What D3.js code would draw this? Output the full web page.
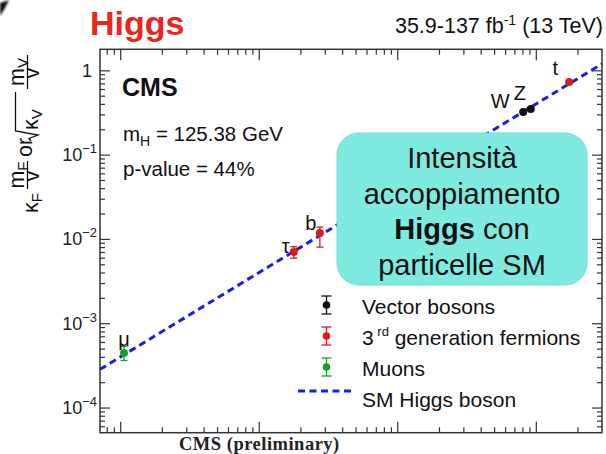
<!DOCTYPE html>
<html>
<head>
<meta charset="utf-8">
<script src="https://cdn.jsdelivr.net/npm/d3@7"></script>
<style>
  html, body { margin: 0; padding: 0; background: #fff; }
  svg { display: block; font-family: "Liberation Sans", Arial, Helvetica, sans-serif; }
</style>
</head>
<body>
<svg id="chart" width="606" height="454"></svg>
<script>
// Higgs boson couplings versus particle mass
const particles = ["μ", "τ", "b", "W", "Z", "t"];
const masses    = [0.1057, 1.777, 2.74, 80.38, 91.19, 172.8];        // GeV
const couplings = [4.49e-4, 7.1e-3, 0.0119, 0.325, 0.352, 0.736];   // kappa * m / v
const errLow    = [3.67e-4, 6.0e-3, 0.0081, 0.318, 0.345, 0.722];
const errHigh   = [5.38e-4, 8.2e-3, 0.0140, 0.332, 0.359, 0.750];
const groups    = ["muon", "fermion3", "fermion3", "vector", "vector", "fermion3"];
const vev = 246.22;                                                // GeV

const legendEntries = ["Vector bosons", "3rd generation fermions", "Muons", "SM Higgs boson"];
const legendGroups  = ["vector", "fermion3", "muon", "sm"];
const yTickValues   = [1e-4, 1e-3, 1e-2, 1e-1, 1];
const yTickExps     = ["−4", "−3", "−2", "−1", ""];
const massRange     = [0.0709, 298];
const couplingRange = [5.1e-5, 1.8];
const boxLines      = ["Intensità", "accoppiamento", "Higgs con", "particelle SM"];

const colors = { vector: "#111111", fermion3: "#e01a1a", muon: "#1a9e2a", sm: "#1c1ce0" };

// label placement around each marker
const labelOffsets = { "μ": [0, -7], "τ": [-8, 1], "b": [-9, -3], "W": [-23, -4], "Z": [-11, -9], "t": [-14, -7] };

const svg = d3.select("#chart");
const L = 100, R = 602, T = 49.3, B = 432.7;

const x = d3.scaleLog().domain(massRange).range([L, R]);
const y = d3.scaleLog().domain(couplingRange).range([B, T]);

// small dark mark in the corner
svg.append("path")
  .attr("d", "M0,3 L9,0 L5,8 L0,16 Z")
  .attr("fill", "#111")
  .style("filter", "blur(0.8px)");

// headline texts
svg.append("text").attr("x", 90).attr("y", 35)
  .attr("font-size", 34).attr("font-weight", "bold").attr("fill", "#e8261e")
  .text("Higgs");

const lumi = svg.append("text").attr("x", 603).attr("y", 33)
  .attr("text-anchor", "end").attr("font-size", 21.5).attr("fill", "#111");
lumi.append("tspan").text("35.9-137 fb");
lumi.append("tspan").attr("font-size", 14).attr("dy", -8).text("-1");
lumi.append("tspan").attr("dy", 8).text(" (13 TeV)");

// ticks (log scale, drawn on all four sides)
function logTicks(domain) {
  const out = [];
  const lo = Math.floor(Math.log10(domain[0])), hi = Math.ceil(Math.log10(domain[1]));
  for (let e = lo; e <= hi; e++) {
    for (let k = 1; k <= 9; k++) {
      const v = k * Math.pow(10, e);
      if (v >= domain[0] && v <= domain[1]) out.push({ v, major: k === 1 });
    }
  }
  return out;
}
const tickColor = "#333";
const ticksG = svg.append("g").attr("stroke", tickColor).attr("stroke-width", 1.2);
logTicks(massRange).forEach(t => {
  const len = t.major ? 11 : 5.5;
  const px = x(t.v);
  ticksG.append("line").attr("x1", px).attr("x2", px).attr("y1", B).attr("y2", B - len);
  ticksG.append("line").attr("x1", px).attr("x2", px).attr("y1", T).attr("y2", T + len);
});
logTicks(couplingRange).forEach(t => {
  const len = t.major ? 10 : 5;
  const py = y(t.v);
  ticksG.append("line").attr("x1", L).attr("x2", L + len).attr("y1", py).attr("y2", py);
  ticksG.append("line").attr("x1", R).attr("x2", R - len).attr("y1", py).attr("y2", py);
});

// y tick labels
yTickValues.forEach((v, i) => {
  const t = svg.append("text").attr("x", yTickExps[i] ? 97 : 92).attr("y", y(v) + 6)
    .attr("text-anchor", "end").attr("font-size", 18).attr("fill", "#222");
  if (yTickExps[i]) {
    t.append("tspan").text("10");
    t.append("tspan").attr("font-size", 13).attr("dy", -8).text(yTickExps[i]);
  } else {
    t.text("1");
  }
});

// SM expectation: coupling = m / v
const smLine = d3.line().x(d => x(d)).y(d => y(d / vev));
svg.append("path")
  .datum(massRange)
  .attr("d", smLine)
  .attr("fill", "none").attr("stroke", colors.sm)
  .attr("stroke-width", 3).attr("stroke-dasharray", "7,4.5");

// measured points with error bars
const pts = particles.map((p, i) => ({ p, m: masses[i], c: couplings[i], lo: errLow[i], hi: errHigh[i], g: groups[i] }));
const ptG = svg.append("g");
pts.forEach(d => {
  const col = colors[d.g];
  const px = x(d.m);
  ptG.append("line").attr("x1", px).attr("x2", px).attr("y1", y(d.lo)).attr("y2", y(d.hi))
    .attr("stroke", col).attr("stroke-width", 1.3);
  [d.lo, d.hi].forEach(e => {
    ptG.append("line").attr("x1", px - 3.5).attr("x2", px + 3.5).attr("y1", y(e)).attr("y2", y(e))
      .attr("stroke", col).attr("stroke-width", 1.3);
  });
  ptG.append("circle").attr("cx", px).attr("cy", y(d.c)).attr("r", 4).attr("fill", col);
  const off = labelOffsets[d.p];
  ptG.append("text").attr("x", px + off[0]).attr("y", y(d.c) + off[1])
    .attr("text-anchor", "middle").attr("font-size", 20).attr("fill", "#111")
    .text(d.p);
});

// frame
svg.append("rect").attr("x", L).attr("y", T).attr("width", R - L).attr("height", B - T)
  .attr("fill", "none").attr("stroke", "#333").attr("stroke-width", 1.5);

// CMS block
svg.append("text").attr("x", 122).attr("y", 96).attr("font-size", 25).attr("font-weight", "bold")
  .attr("fill", "#111").text("CMS");
const mh = svg.append("text").attr("x", 123).attr("y", 141).attr("font-size", 20.5).attr("fill", "#111");
mh.append("tspan").text("m");
mh.append("tspan").attr("font-size", 14).attr("dy", 5).text("H");
mh.append("tspan").attr("dy", -5).text(" = 125.38 GeV");
svg.append("text").attr("x", 123).attr("y", 176).attr("font-size", 20.5).attr("fill", "#111")
  .text("p-value = 44%");

// y axis title
const yt = svg.append("g").attr("transform", "rotate(-90)").attr("fill", "#111").attr("font-size", 21.5);
const kf = yt.append("text").attr("x", -213).attr("y", 38);
kf.append("tspan").text("κ");
kf.append("tspan").attr("font-size", 15).attr("dy", 4).text("F");
const nf = yt.append("text").attr("x", -175).attr("y", 24).attr("text-anchor", "middle");
nf.append("tspan").text("m");
nf.append("tspan").attr("font-size", 15).attr("dy", 4).text("F");
yt.append("line").attr("x1", -189).attr("x2", -161).attr("y1", 27.5).attr("y2", 27.5)
  .attr("stroke", "#111").attr("stroke-width", 1.3);
yt.append("text").attr("x", -176).attr("y", 39).attr("text-anchor", "middle").text("v");
yt.append("text").attr("x", -157).attr("y", 32).text("or");
yt.append("path").attr("d", "M-141,31 L-138.5,29 L-135,38 L-131,15.5 L-92,15.5")
  .attr("fill", "none").attr("stroke", "#111").attr("stroke-width", 1.3);
const kv = yt.append("text").attr("x", -130).attr("y", 38);
kv.append("tspan").text("κ");
kv.append("tspan").attr("font-size", 15).attr("dy", 4).text("V");
const nv = yt.append("text").attr("x", -72).attr("y", 24).attr("text-anchor", "middle");
nv.append("tspan").text("m");
nv.append("tspan").attr("font-size", 15).attr("dy", 4).text("V");
yt.append("line").attr("x1", -89).attr("x2", -55).attr("y1", 27.5).attr("y2", 27.5)
  .attr("stroke", "#111").attr("stroke-width", 1.3);
yt.append("text").attr("x", -73).attr("y", 39).attr("text-anchor", "middle").text("v");

// highlight box
svg.append("rect").attr("x", 337).attr("y", 133).attr("width", 250).attr("height", 152)
  .attr("rx", 22).attr("fill", "#7feadf").attr("stroke", "#72ddd2").attr("stroke-width", 1);
boxLines.forEach((line, i) => {
  const t = svg.append("text").attr("x", 462).attr("y", 168 + i * 35.5)
    .attr("text-anchor", "middle").attr("font-size", 29).attr("fill", "#111");
  if (line.startsWith("Higgs")) {
    t.append("tspan").attr("font-weight", "bold").text("Higgs");
    t.append("tspan").text(line.slice(5));
  } else {
    t.text(line);
  }
});

// legend
const lg = svg.append("g");
legendEntries.forEach((label, i) => {
  const cy = 305 + i * 31;
  const g = legendGroups[i];
  if (g === "sm") {
    lg.append("line").attr("x1", 298).attr("x2", 352).attr("y1", cy - 7).attr("y2", cy - 7)
      .attr("stroke", colors.sm).attr("stroke-width", 3).attr("stroke-dasharray", "7,4.5");
  } else {
    const cx = 326.5;
    lg.append("line").attr("x1", cx).attr("x2", cx).attr("y1", cy - 9).attr("y2", cy + 9)
      .attr("stroke", colors[g]).attr("stroke-width", 1.3);
    [cy - 9, cy + 9].forEach(e => lg.append("line").attr("x1", cx - 5).attr("x2", cx + 5)
      .attr("y1", e).attr("y2", e).attr("stroke", colors[g]).attr("stroke-width", 1.3));
    lg.append("circle").attr("cx", cx).attr("cy", cy).attr("r", 3.8).attr("fill", colors[g]);
  }
  const t = lg.append("text").attr("x", 362).attr("y", cy + 9).attr("font-size", 21).attr("fill", "#111");
  if (label.startsWith("3rd")) {
    t.append("tspan").text("3");
    t.append("tspan").attr("font-size", 13).attr("dy", -9).text(" rd");
    t.append("tspan").attr("dy", 9).text(" generation fermions");
  } else {
    t.text(label);
  }
});

// footer
svg.append("text").attr("x", 179).attr("y", 450)
  .attr("font-family", "'Liberation Serif', 'Times New Roman', serif")
  .attr("font-size", 18.5).attr("font-weight", "bold").attr("letter-spacing", 0.5).attr("fill", "#222")
  .text("CMS (preliminary)");
</script>
</body>
</html>
